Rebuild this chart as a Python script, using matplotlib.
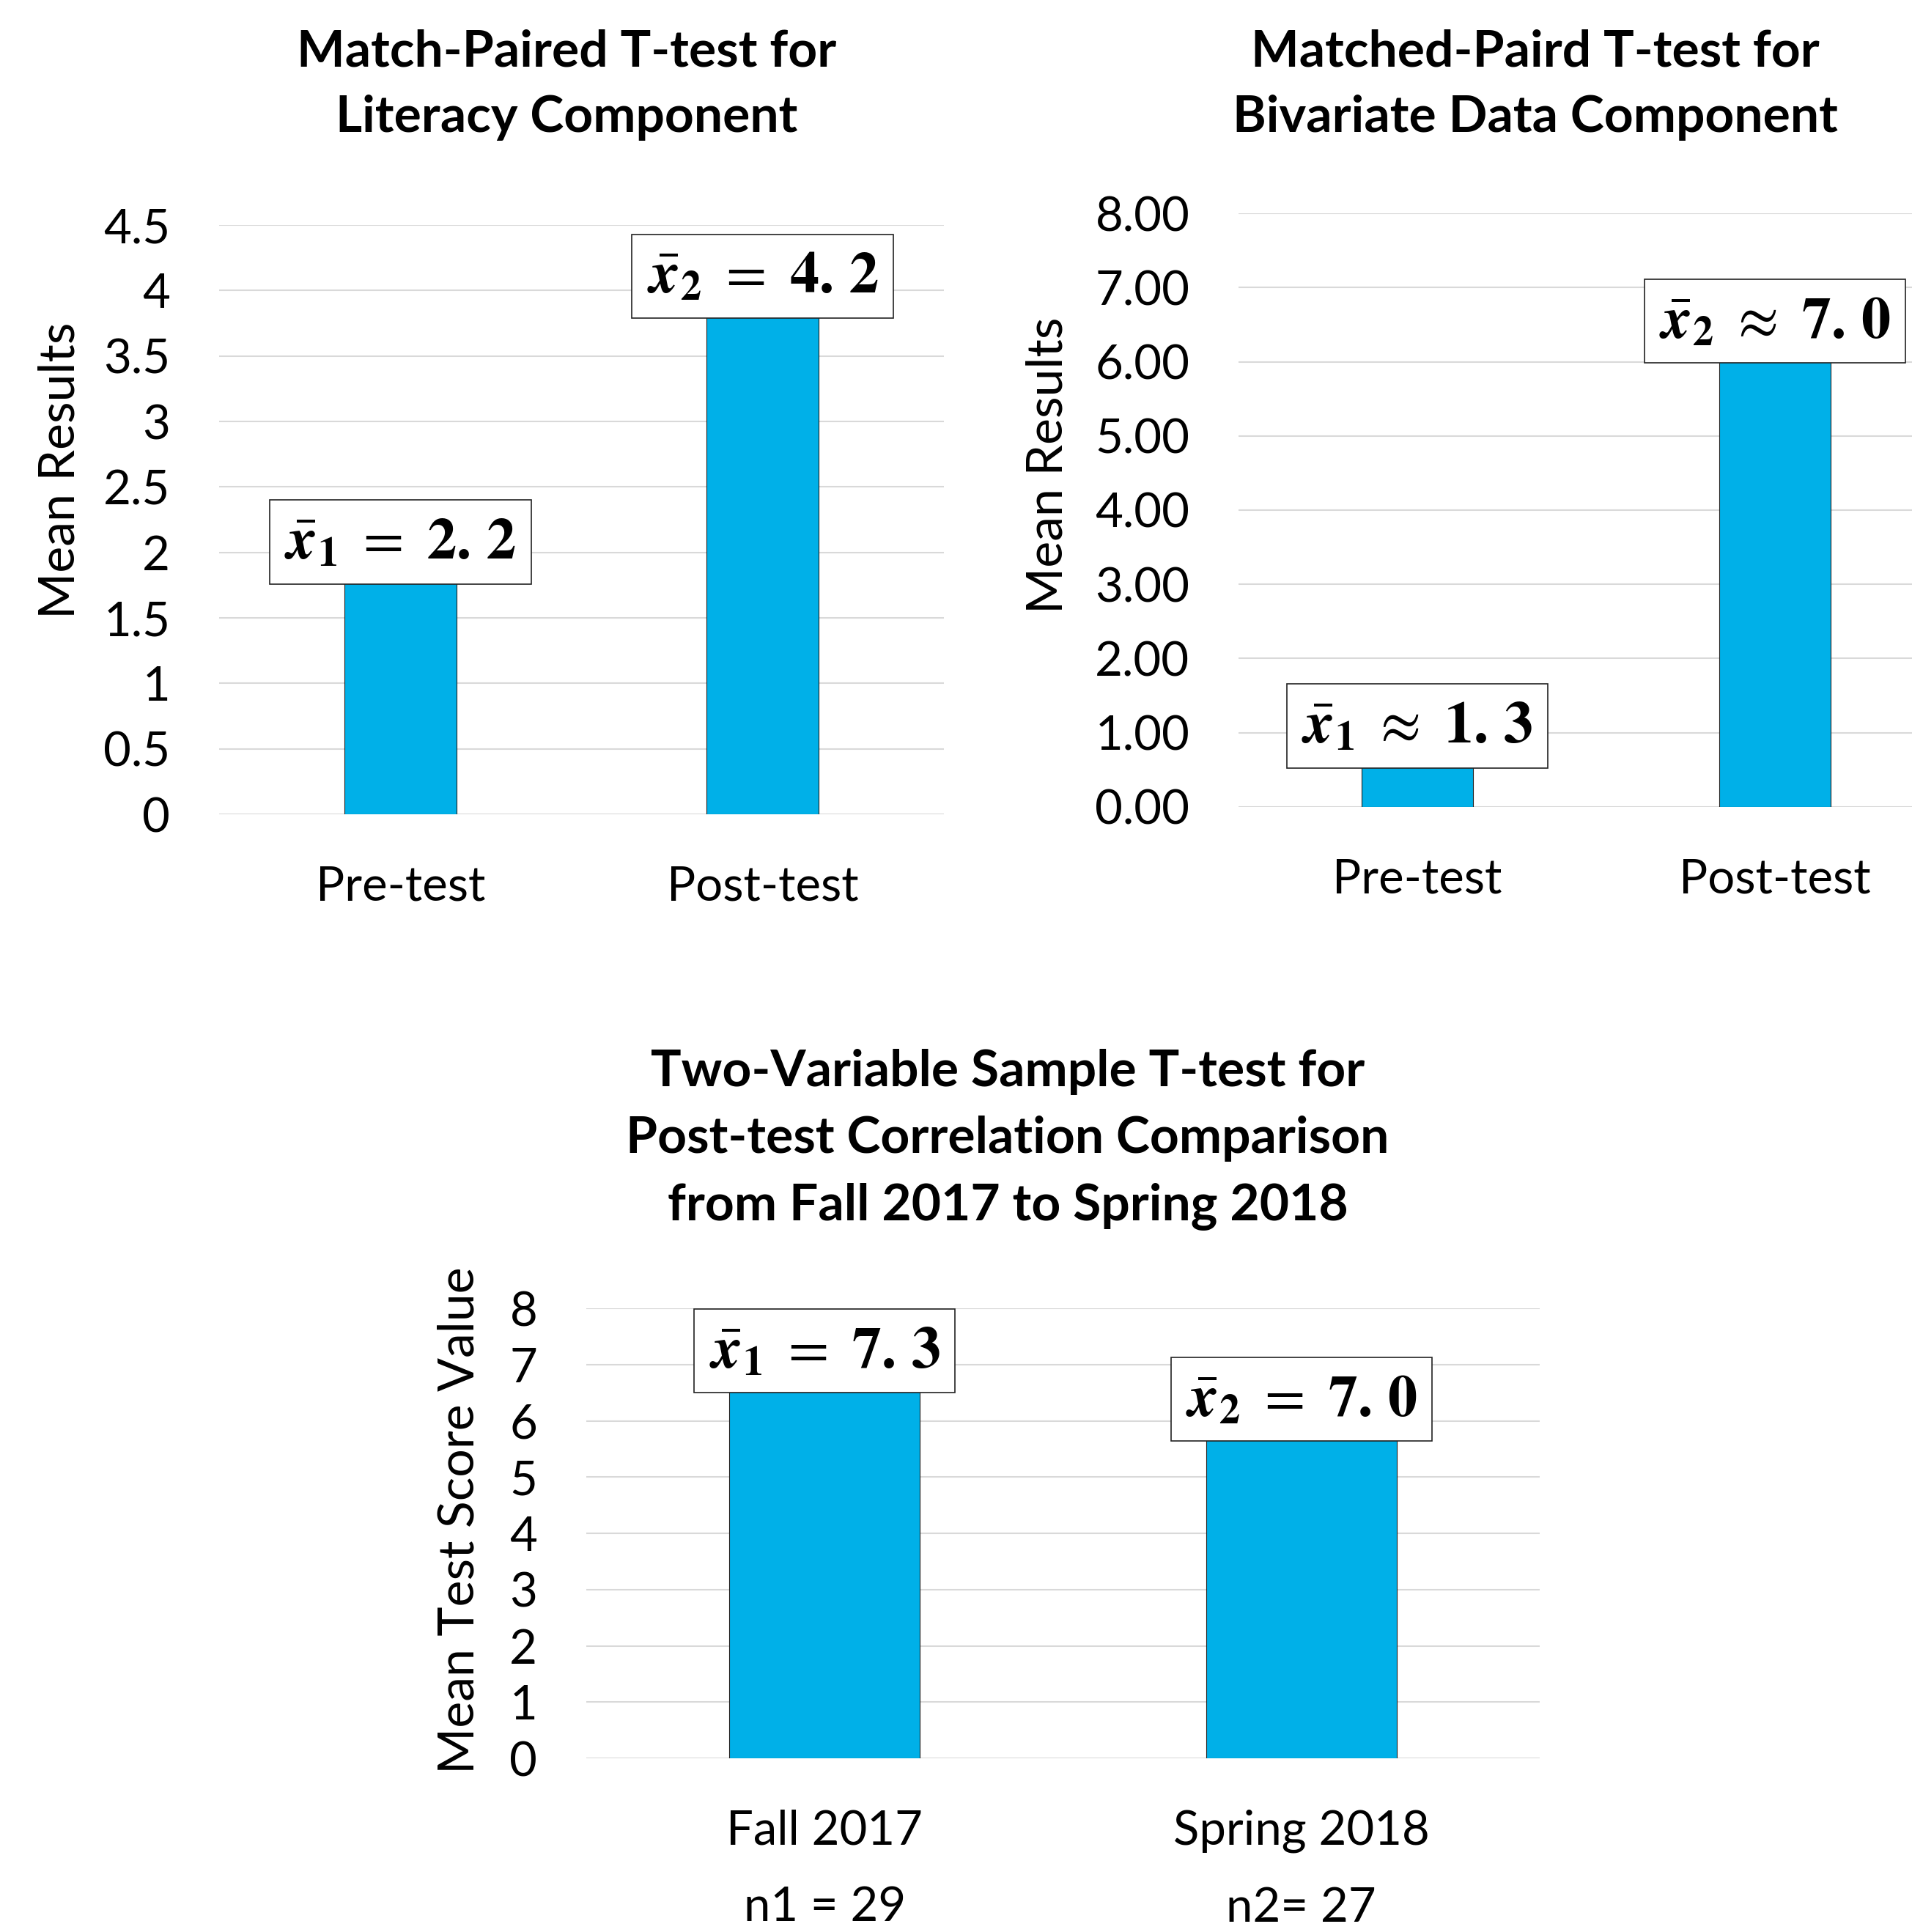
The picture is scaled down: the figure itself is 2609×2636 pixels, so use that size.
import matplotlib
matplotlib.use('Agg')
import matplotlib.pyplot as plt
from matplotlib.ticker import FuncFormatter

# data
lit_groups = ['Pre-test', 'Post-test']
lit_means = [2.2, 4.2]
lit_signs = ['=', '=']

biv_groups = ['Pre-test', 'Post-test']
biv_means = [1.3, 7.0]
biv_signs = [r'\approx', r'\approx']

terms = ['Fall 2017', 'Spring 2018']
term_sizes = ['n1 = 29', 'n2= 27']
term_means = [7.3, 7.0]
term_signs = ['=', '=']

# where the value boxes sit (data units)
lit_box_y = [2.08, 4.11]
biv_box_y = [1.09, 6.55]
term_box_y = [7.24, 6.38]

BAR_COLOR = '#00B0E8'
GRID_COLOR = '#D9D9D9'

plt.rcParams['font.family'] = ['Lato', 'DejaVu Sans']
plt.rcParams['mathtext.fontset'] = 'stix'

W, H = 2609, 2636
fig = plt.figure(figsize=(W / 100, H / 100), dpi=100)


def px_axes(left, top, right, bottom):
    return fig.add_axes([left / W, 1 - bottom / H, (right - left) / W, (bottom - top) / H])


def mean_label(i, sign, value):
    whole, frac = f'{value:.1f}'.split('.')
    return (r'$\bar{\boldsymbol{x}}_{\mathbf{%d}}\ %s\ \mathbf{%s.\,%s}$'
            % (i + 1, sign, whole, frac))


def draw_bars(ax, groups, means, signs, box_y, ymax, step, width, fmt, ylabel):
    x = list(range(len(groups)))
    ax.bar(x, means, width=width, color=BAR_COLOR, edgecolor='#222222',
           linewidth=0.8, zorder=2)
    ax.set_xlim(-0.5, len(groups) - 0.5)
    ax.set_ylim(0, ymax)
    ticks = [i * step for i in range(int(round(ymax / step)) + 1)]
    ax.set_yticks(ticks)
    ax.yaxis.set_major_formatter(FuncFormatter(fmt))
    ax.set_xticks(x)
    ax.set_xticklabels(groups)
    ax.grid(axis='y', color=GRID_COLOR, linewidth=1.5, zorder=0)
    ax.set_axisbelow(True)
    for s in ax.spines.values():
        s.set_visible(False)
    ax.tick_params(length=0, labelsize=47)
    ax.tick_params(axis='y', pad=48)
    ax.tick_params(axis='x', pad=50)
    ax.set_ylabel(ylabel, fontsize=49)
    for i, (m, sg, by) in enumerate(zip(means, signs, box_y)):
        ax.text(i, by, mean_label(i, sg, m), ha='center', va='center',
                fontsize=58, zorder=5,
                bbox=dict(boxstyle='square,pad=0.25', facecolor='white',
                          edgecolor='#222222', linewidth=1.2))


# literacy component
ax1 = px_axes(299, 307, 1288, 1111)
draw_bars(ax1, lit_groups, lit_means, lit_signs, lit_box_y, 4.5, 0.5, 0.31,
          lambda v, p: f'{v:g}', 'Mean Results')
ax1.yaxis.set_label_coords(-0.188, 0.584)

# bivariate data component
ax2 = px_axes(1690, 291, 2666, 1101)
draw_bars(ax2, biv_groups, biv_means, biv_signs, biv_box_y, 8, 1, 0.31,
          lambda v, p: f'{v:.2f}', 'Mean Results')
ax2.yaxis.set_label_coords(-0.234, 0.575)

# fall vs spring
ax3 = px_axes(800, 1785, 2101, 2399)
draw_bars(ax3, [f'{t}\n{n}' for t, n in zip(terms, term_sizes)], term_means,
          term_signs, term_box_y, 8, 1, 0.40, lambda v, p: f'{v:g}',
          'Mean Test Score Value')
ax3.yaxis.set_label_coords(-0.109, 0.529)
for lbl in ax3.get_xticklabels():
    lbl.set_linespacing(1.95)

title_kw = dict(ha='center', va='center', fontsize=50, fontweight='bold')
fig.text(773 / W, 1 - 116 / H, 'Match-Paired T-test for\nLiteracy Component',
         linespacing=1.52, **title_kw)
fig.text(2095 / W, 1 - 116 / H, 'Matched-Paird T-test for\nBivariate Data Component',
         linespacing=1.52, **title_kw)
fig.text(1375 / W, 1 - 1555 / H,
         'Two-Variable Sample T-test for\nPost-test Correlation Comparison\nfrom Fall 2017 to Spring 2018',
         linespacing=1.56, **title_kw)

fig.savefig('out.png', dpi=100, facecolor='white')
